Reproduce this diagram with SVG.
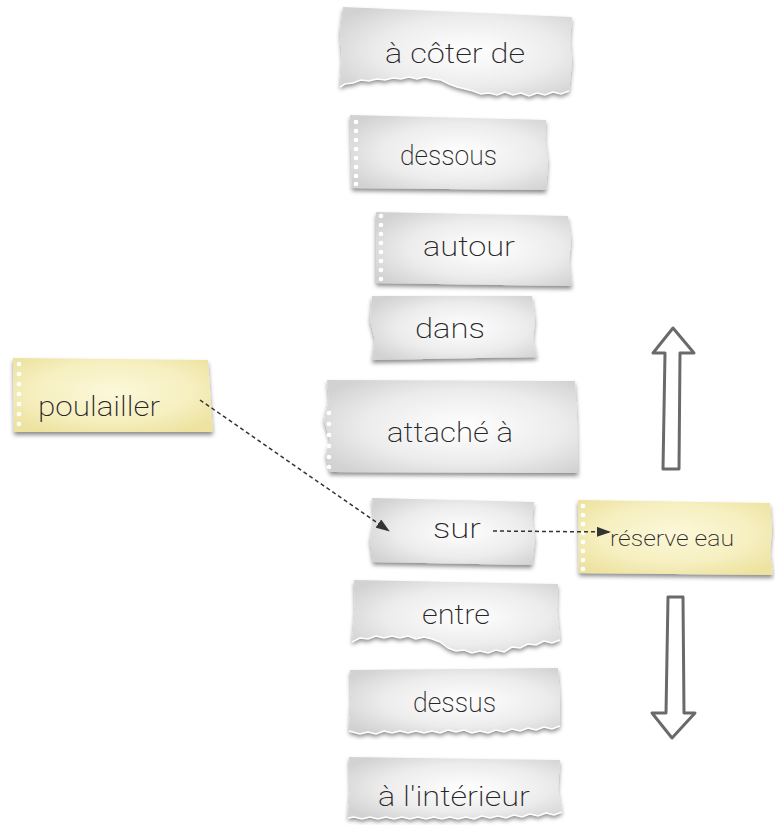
<svg xmlns="http://www.w3.org/2000/svg" width="775" height="825" viewBox="0 0 775 825">
  <style>
    .paper { fill: url(#grayPaper); filter: url(#shadow); }
    .sticky { fill: url(#yellowPaper); filter: url(#shadow); }
    .hole { fill: #ffffff; }
    .fringe { fill: none; stroke: #ffffff; stroke-width: 1.5; stroke-linejoin: round; }
    .label { font-family: "Roboto", "Open Sans", "Liberation Sans", sans-serif; font-weight: 200; font-size: 28px; fill: #262626; text-anchor: start; }
    .link { fill: none; stroke: #333333; stroke-width: 1.5; stroke-dasharray: 4 3; }
    .bigarrow { fill: #ffffff; stroke: #6a6a6a; stroke-width: 3; stroke-linejoin: round; }
  </style>
  <defs>
    <radialGradient id="grayPaper" cx="0.55" cy="0.5" r="0.65">
      <stop offset="0" stop-color="#ffffff"/>
      <stop offset="0.6" stop-color="#ececec"/>
      <stop offset="1" stop-color="#d2d2d2"/>
    </radialGradient>
    <radialGradient id="yellowPaper" cx="0.5" cy="0.45" r="0.65">
      <stop offset="0" stop-color="#fcf8da"/>
      <stop offset="0.6" stop-color="#f6efc0"/>
      <stop offset="1" stop-color="#ede29f"/>
    </radialGradient>
    <filter id="shadow" x="-10%" y="-10%" width="120%" height="130%">
      <feDropShadow dx="0" dy="3" stdDeviation="2" flood-color="#000000" flood-opacity="0.45"/>
    </filter>
    <marker id="head" viewBox="0 0 14 10" refX="13" refY="5" markerWidth="14" markerHeight="10" markerUnits="userSpaceOnUse" orient="auto">
      <path d="M0,0 L14,5 L0,10 Z" fill="#333333"/>
    </marker>
  </defs>

  <!-- torn strip: à côter de -->
  <g id="n-acoter">
    <path class="paper" d="M343,7 L572,17 L570,40 L572,62 L569,91 L561,94 L553,92 L545,95 L537,93 L529,96 L521,93 L513,95 L505,92 L497,95 L489,93 L481,94 L473,91 L465,89 L457,87 L449,84 L441,80 L433,79 L425,77 L417,79 L409,77 L401,79 L393,78 L385,80 L377,79 L369,81 L361,80 L353,83 L345,84 L340,87 L342,60 L340,32 Z"/>
    <path class="fringe" d="M569,91 L561,94 L553,92 L545,95 L537,93 L529,96 L521,93 L513,95 L505,92 L497,95 L489,93 L481,94 L473,91 L465,89 L457,87 L449,84 L441,80 L433,79 L425,77 L417,79 L409,77 L401,79 L393,78 L385,80 L377,79 L369,81 L361,80 L353,83 L345,84 L340,87"/>
    <text class="label" x="385" y="63" textLength="140" lengthAdjust="spacingAndGlyphs">à côter de</text>
  </g>

  <!-- notebook strip: dessous -->
  <g id="n-dessous">
    <path class="paper" d="M350,115 L546,120 L545,140 L548,162 L546,190 L352,188 Z"/>
    <g class="hole">
      <circle cx="356" cy="122" r="2.3"/><circle cx="356" cy="131" r="2.3"/><circle cx="356" cy="140" r="2.3"/>
      <circle cx="356" cy="149" r="2.3"/><circle cx="356" cy="158" r="2.3"/><circle cx="356" cy="167" r="2.3"/>
      <circle cx="356" cy="176" r="2.3"/><circle cx="356" cy="184" r="2.3"/>
    </g>
    <text class="label" x="400" y="165" textLength="97" lengthAdjust="spacingAndGlyphs">dessous</text>
  </g>

  <!-- notebook strip: autour -->
  <g id="n-autour">
    <path class="paper" d="M376,212 L568,216 L571,240 L569,262 L572,286 L376,283 Z"/>
    <g class="hole">
      <circle cx="381" cy="216" r="2.3"/><circle cx="381" cy="225" r="2.3"/><circle cx="381" cy="234" r="2.3"/>
      <circle cx="381" cy="243" r="2.3"/><circle cx="381" cy="252" r="2.3"/><circle cx="381" cy="261" r="2.3"/>
      <circle cx="381" cy="270" r="2.3"/><circle cx="381" cy="279" r="2.3"/>
    </g>
    <text class="label" x="423" y="256" textLength="92" lengthAdjust="spacingAndGlyphs">autour</text>
  </g>

  <!-- strip: dans -->
  <g id="n-dans">
    <path class="paper" d="M372,296 L532,296 L535,320 L533,340 L537,357 L372,360 L375,340 L370,320 Z"/>
    <text class="label" x="415" y="338" textLength="70" lengthAdjust="spacingAndGlyphs">dans</text>
  </g>

  <!-- sticky note: poulailler -->
  <g id="n-poulailler">
    <path class="sticky" d="M13,358 L208,360 L210,390 L213,432 L14,432 Z"/>
    <g class="hole">
      <circle cx="19" cy="364" r="2.3"/><circle cx="19" cy="374" r="2.3"/><circle cx="19" cy="384" r="2.3"/>
      <circle cx="19" cy="394" r="2.3"/><circle cx="19" cy="404" r="2.3"/><circle cx="19" cy="414" r="2.3"/>
      <circle cx="19" cy="424" r="2.3"/>
    </g>
    <text class="label" x="38" y="416" textLength="122" lengthAdjust="spacingAndGlyphs">poulailler</text>
  </g>

  <!-- strip: attaché à -->
  <g id="n-attache">
    <path class="paper" d="M327,380 L575,381 L577,420 L578,473 L330,472 L326,455 L330,440 L324,420 L329,400 Z"/>
    <g class="hole">
      <circle cx="329" cy="413" r="2.3"/><circle cx="329" cy="424" r="2.3"/><circle cx="329" cy="435" r="2.3"/>
      <circle cx="329" cy="446" r="2.3"/><circle cx="329" cy="457" r="2.3"/><circle cx="329" cy="467" r="2.3"/>
    </g>
    <text class="label" x="387" y="442" textLength="126" lengthAdjust="spacingAndGlyphs">attaché à</text>
  </g>

  <!-- strip: sur -->
  <g id="n-sur">
    <path class="paper" d="M372,498 L534,502 L532,520 L535,540 L532,565 L373,562 L370,540 L374,520 Z"/>
    <text class="label" x="433" y="538" textLength="48" lengthAdjust="spacingAndGlyphs">sur</text>
  </g>

  <!-- sticky note: réserve eau -->
  <g id="n-reserve">
    <path class="sticky" d="M578,500 L770,503 L772,530 L770,552 L773,575 L579,573 Z"/>
    <g class="hole">
      <circle cx="583" cy="506" r="2.3"/><circle cx="583" cy="515" r="2.3"/><circle cx="583" cy="524" r="2.3"/>
      <circle cx="583" cy="533" r="2.3"/><circle cx="583" cy="542" r="2.3"/><circle cx="583" cy="551" r="2.3"/>
      <circle cx="583" cy="560" r="2.3"/><circle cx="583" cy="569" r="2.3"/>
    </g>
    <text class="label" x="610" y="546" textLength="124" lengthAdjust="spacingAndGlyphs" style="font-size:22px">réserve eau</text>
  </g>

  <!-- torn strip: entre -->
  <g id="n-entre">
    <path class="paper" d="M354,580 L558,584 L557,610 L560,640 L552,643 L544,641 L536,645 L528,644 L520,648 L512,647 L504,652 L496,650 L488,653 L480,651 L472,653 L464,650 L456,651 L448,648 L440,642 L432,639 L424,637 L416,639 L408,636 L400,638 L392,636 L384,638 L376,636 L368,639 L360,638 L352,642 L355,610 Z"/>
    <path class="fringe" d="M560,640 L552,643 L544,641 L536,645 L528,644 L520,648 L512,647 L504,652 L496,650 L488,653 L480,651 L472,653 L464,650 L456,651 L448,648 L440,642 L432,639 L424,637 L416,639 L408,636 L400,638 L392,636 L384,638 L376,636 L368,639 L360,638 L352,642"/>
    <text class="label" x="422" y="624" textLength="68" lengthAdjust="spacingAndGlyphs">entre</text>
  </g>

  <!-- torn strip: dessus -->
  <g id="n-dessus">
    <path class="paper" d="M350,670 L558,668 L560,700 L560,726 L552,729 L544,727 L536,730 L528,728 L520,731 L512,729 L504,732 L496,730 L488,733 L480,731 L472,733 L464,730 L456,732 L448,730 L440,733 L432,731 L424,733 L416,731 L408,733 L400,731 L392,733 L384,731 L376,734 L368,732 L360,734 L349,731 L351,700 Z"/>
    <path class="fringe" d="M560,726 L552,729 L544,727 L536,730 L528,728 L520,731 L512,729 L504,732 L496,730 L488,733 L480,731 L472,733 L464,730 L456,732 L448,730 L440,733 L432,731 L424,733 L416,731 L408,733 L400,731 L392,733 L384,731 L376,734 L368,732 L360,734 L349,731"/>
    <text class="label" x="413" y="712" textLength="83" lengthAdjust="spacingAndGlyphs">dessus</text>
  </g>

  <!-- torn strip: à l'intérieur -->
  <g id="n-interieur">
    <path class="paper" d="M349,757 L560,760 L558,790 L562,812 L554,815 L546,813 L538,816 L530,814 L522,817 L514,815 L506,818 L498,816 L490,818 L482,816 L474,819 L466,817 L458,819 L450,817 L442,819 L434,817 L426,819 L418,817 L410,819 L402,817 L394,819 L386,817 L378,819 L370,817 L362,819 L354,817 L348,818 L350,790 Z"/>
    <path class="fringe" d="M562,812 L554,815 L546,813 L538,816 L530,814 L522,817 L514,815 L506,818 L498,816 L490,818 L482,816 L474,819 L466,817 L458,819 L450,817 L442,819 L434,817 L426,819 L418,817 L410,819 L402,817 L394,819 L386,817 L378,819 L370,817 L362,819 L354,817 L348,818"/>
    <text class="label" x="378" y="806" textLength="152" lengthAdjust="spacingAndGlyphs">à l'intérieur</text>
  </g>

  <!-- hollow direction arrows -->
  <g id="arrow-up">
    <path class="bigarrow" d="M663,469 L665,353 L653,353 L673,328 L694,353 L680,353 L679,469 Z"/>
  </g>
  <g id="arrow-down">
    <path class="bigarrow" d="M668,597 L683,597 L684,713 L695,713 L672,738 L652,713 L666,713 Z"/>
  </g>

  <!-- dashed links -->
  <g id="connectors">
    <path class="link" d="M200,400 L389,531" marker-end="url(#head)"/>
    <path class="link" d="M493,531 L610,532" marker-end="url(#head)"/>
  </g>
</svg>
